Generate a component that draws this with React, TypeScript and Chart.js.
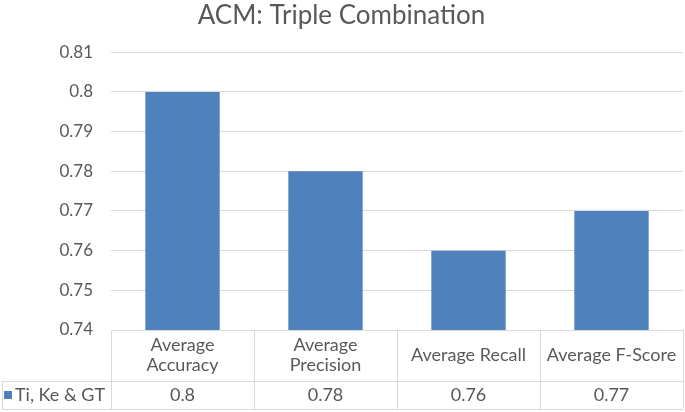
import React, { useEffect, useRef } from "react";
import { Chart, registerables } from "chart.js";

Chart.register(...registerables);

const titleText = "ACM: Triple Combination";
const categories: string[][] = [
  ["Average", "Accuracy"],
  ["Average", "Precision"],
  ["Average Recall"],
  ["Average F-Score"],
];
const seriesName = "Ti, Ke & GT";
const values = [0.8, 0.78, 0.76, 0.77];
const valueLabels = ["0.8", "0.78", "0.76", "0.77"];
const yMin = 0.74;
const yMax = 0.81;
const yStep = 0.01;

const FONT = "Lato, 'Open Sans', sans-serif";
const TEXT = "#595959";
const GRID = "#d9d9d9";
const BAR = "#4f81bd";

const tablePlugin = {
  id: "dataTable",
  afterDraw(chart: any) {
    const ctx = chart.ctx;
    const area = chart.chartArea;
    const xs = chart.scales.x;
    const n = categories.length;
    const colW = (area.right - area.left) / n;
    const top = area.bottom;
    const rowSep = top + 51;
    const bottom = rowSep + 28;
    const leftEdge = 2;
    ctx.save();
    ctx.strokeStyle = GRID;
    ctx.lineWidth = 1;
    ctx.beginPath();
    for (let i = 0; i <= n; i++) {
      const x = Math.round(area.left + i * colW) + 0.5;
      ctx.moveTo(x, top);
      ctx.lineTo(x, bottom);
    }
    ctx.moveTo(leftEdge + 0.5, rowSep);
    ctx.lineTo(leftEdge + 0.5, bottom);
    ctx.moveTo(leftEdge, Math.round(rowSep) + 0.5);
    ctx.lineTo(area.right, Math.round(rowSep) + 0.5);
    ctx.moveTo(leftEdge, Math.round(bottom) + 0.5);
    ctx.lineTo(area.right, Math.round(bottom) + 0.5);
    ctx.stroke();

    ctx.fillStyle = TEXT;
    ctx.font = `18px ${FONT}`;
    ctx.textAlign = "center";
    ctx.textBaseline = "middle";
    const headMid = (top + rowSep) / 2;
    const dataMid = (rowSep + bottom) / 2;
    for (let i = 0; i < n; i++) {
      const cx = xs.getPixelForValue(i);
      const lines = categories[i];
      const lh = 20;
      lines.forEach((ln, j) => {
        const y = headMid + (j - (lines.length - 1) / 2) * lh;
        ctx.fillText(ln, cx, y);
      });
      ctx.fillText(valueLabels[i], cx, dataMid);
    }
    ctx.fillStyle = BAR;
    ctx.fillRect(4, dataMid - 4, 8, 8);
    ctx.fillStyle = TEXT;
    ctx.textAlign = "left";
    ctx.fillText(seriesName, 15, dataMid);
    ctx.restore();
  },
};

export default function App() {
  const ref = useRef<HTMLCanvasElement>(null);
  useEffect(() => {
    document.body.style.margin = "0";
    const chart = new Chart(ref.current!, {
      type: "bar",
      data: {
        labels: categories.map((c) => c.join(" ")),
        datasets: [
          {
            label: seriesName,
            data: values,
            backgroundColor: BAR,
            borderWidth: 0,
            categoryPercentage: 1,
            barPercentage: 0.52,
          },
        ],
      },
      options: {
        animation: false,
        responsive: true,
        maintainAspectRatio: false,
        layout: { padding: { left: 0, right: 2, top: 0, bottom: 82 } },
        plugins: {
          legend: { display: false },
          tooltip: { enabled: false },
          title: {
            display: true,
            text: titleText,
            color: TEXT,
            font: { family: FONT, size: 26, weight: "normal" },
            padding: { top: 0, bottom: 21 },
          },
        },
        scales: {
          x: { display: false },
          y: {
            min: yMin,
            max: yMax,
            border: { display: false },
            grid: { color: GRID, drawTicks: false },
            ticks: {
              stepSize: yStep,
              padding: 18,
              color: TEXT,
              font: { family: FONT, size: 17 },
              callback: (v: any) => String(parseFloat(Number(v).toFixed(2))),
            },
            afterFit: (scale: any) => {
              scale.width = 111;
            },
          },
        },
      },
      plugins: [tablePlugin],
    });
    return () => chart.destroy();
  }, []);
  return (
    <div style={{ position: "relative", width: 685, height: 412 }}>
      <canvas ref={ref} />
    </div>
  );
}
